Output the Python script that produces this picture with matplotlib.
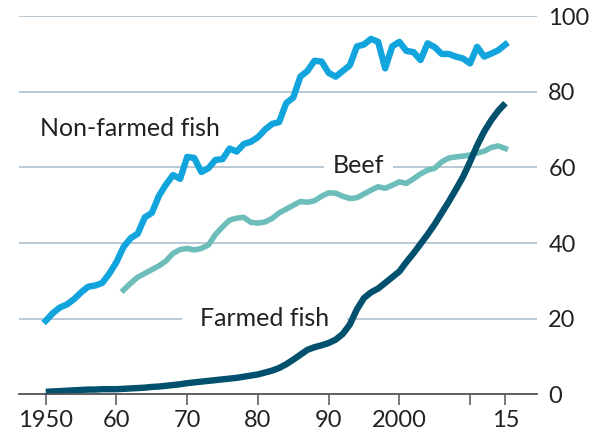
import numpy as np
import matplotlib
matplotlib.use('Agg')
import matplotlib.pyplot as plt

plt.rcParams['font.family'] = ['Lato', 'DejaVu Sans']

# ---------------- data ----------------
years_fish = np.arange(1950, 2016)
nonfarmed = [19.5, 21.5, 23.0, 23.8, 25.2, 27.0, 28.5, 28.8, 29.5, 32.0,
             35.0, 39.0, 41.3, 42.5, 46.8, 48.0, 52.5, 55.5, 58.0, 57.0,
             62.8, 62.5, 58.8, 59.8, 62.0, 62.2, 65.0, 64.2, 66.2, 66.8,
             68.0, 70.0, 71.5, 72.0, 77.0, 78.5, 84.0, 85.5, 88.2, 88.0,
             85.0, 84.0, 85.5, 87.0, 92.0, 92.5, 94.0, 93.2, 86.2, 92.0,
             93.2, 90.8, 90.5, 88.4, 92.8, 91.8, 90.0, 90.0, 89.3, 88.8,
             87.5, 91.9, 89.3, 90.1, 91.0, 92.5]
farmed = [0.7, 0.8, 0.9, 1.0, 1.1, 1.2, 1.3, 1.3, 1.4, 1.4,
          1.4, 1.5, 1.6, 1.7, 1.8, 2.0, 2.1, 2.3, 2.5, 2.7,
          3.0, 3.2, 3.4, 3.6, 3.8, 4.0, 4.2, 4.4, 4.7, 5.0,
          5.3, 5.8, 6.3, 7.0, 8.0, 9.2, 10.5, 11.8, 12.5, 13.0,
          13.6, 14.5, 16.0, 18.5, 22.5, 25.5, 27.0, 28.0, 29.5, 31.0,
          32.5, 35.0, 37.3, 39.8, 42.3, 45.0, 48.0, 51.0, 54.2, 57.5,
          61.5, 65.8, 69.5, 72.5, 75.0, 77.0]
years_beef = np.arange(1961, 2016)
beef = [27.6, 29.4, 31.0, 32.0, 33.0, 34.0, 35.3, 37.3, 38.3,
        38.6, 38.2, 38.6, 39.5, 42.3, 44.3, 46.1, 46.6, 46.8, 45.5,
        45.3, 45.6, 46.5, 48.0, 49.0, 50.0, 51.0, 50.8, 51.2, 52.4,
        53.3, 53.2, 52.4, 51.8, 52.0, 53.0, 54.0, 54.9, 54.5, 55.3,
        56.2, 55.8, 57.0, 58.3, 59.3, 59.8, 61.5, 62.5, 62.8, 63.0,
        63.3, 63.8, 64.3, 65.3, 65.7, 65.0]

xticks = [1950, 1960, 1970, 1980, 1990, 2000, 2010, 2015]
xticklabels = ['1950', '60', '70', '80', '90', '2000', '', '15']
yticks = [0, 20, 40, 60, 80, 100]

C_NONFARM = '#12a4dc'
C_BEEF = '#6dbdbb'
C_FARM = '#00506e'
C_GRID = '#b9cad6'

fig = plt.figure(figsize=(5.91, 4.42), dpi=100)
ax = fig.add_axes([0.032, 0.1075, 0.877, 0.856])

ax.plot(years_fish, nonfarmed, color=C_NONFARM, lw=4.6, zorder=3,
        solid_joinstyle='round', clip_on=False)
ax.plot(years_beef, beef, color=C_BEEF, lw=4.0, zorder=3,
        solid_joinstyle='round', clip_on=False)
ax.plot(years_fish, farmed, color=C_FARM, lw=4.6, zorder=4,
        solid_capstyle='butt', solid_joinstyle='round', clip_on=False)

ax.set_xlim(1946.2, 2019.5)
ax.set_ylim(0, 100)

ax.set_axisbelow(True)
ax.yaxis.grid(True, color=C_GRID, lw=1.4)
ax.yaxis.tick_right()
ax.set_yticks(yticks)
ax.tick_params(axis='y', length=0, pad=8, labelsize=17, labelcolor='#222222')
ax.set_xticks(xticks)
ax.set_xticklabels(xticklabels)
ax.tick_params(axis='x', direction='out', length=8, width=1.1, color='#555555',
               pad=3, labelsize=17, labelcolor='#222222')

for s in ['top', 'left', 'right']:
    ax.spines[s].set_visible(False)
ax.spines['bottom'].set_color('#555555')
ax.spines['bottom'].set_linewidth(1.3)
ax.spines['bottom'].set_zorder(5)

ax.text(1949.2, 70.4, 'Non-farmed fish', fontsize=18, color='#222222',
        ha='left', va='center')
ax.text(1994.2, 60.6, 'Beef', fontsize=18, color='#222222', ha='center',
        va='center', zorder=2,
        bbox=dict(boxstyle='square,pad=0.35', fc='white', ec='none'))
ax.text(1971.8, 20.0, 'Farmed fish', fontsize=18, color='#222222', ha='left',
        va='center', zorder=2,
        bbox=dict(boxstyle='square,pad=0.7', fc='white', ec='none'))

fig.savefig('out.png', dpi=100)
